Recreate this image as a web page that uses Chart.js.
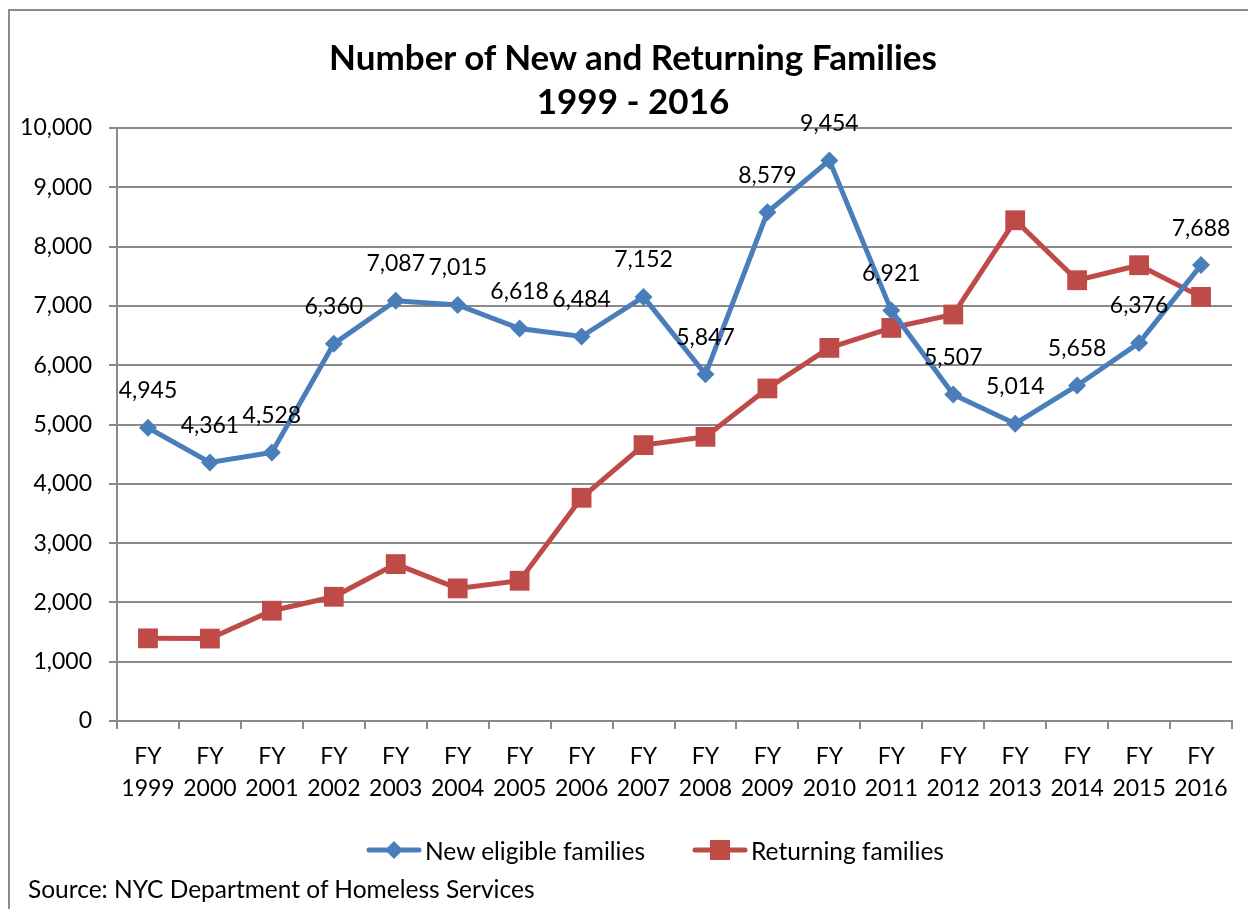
<!DOCTYPE html>
<html>
<head>
<meta charset="utf-8">
<script src="https://cdn.jsdelivr.net/npm/chart.js@4"></script>
<style>
  body { margin: 0; width: 1248px; height: 909px; overflow: hidden; background: #fff; font-family: Lato, sans-serif; color: #000; }
  #frame { position: absolute; left: 8px; top: 9px; width: 1300px; height: 1000px; border: 2px solid #8a8a8a; box-sizing: border-box; }
  #wrap { position: absolute; left: 0; top: 0; width: 1248px; height: 909px; }
  #title { position: absolute; left: 0; top: 34px; width: 1266px; text-align: center; font-weight: bold; font-size: 35px; line-height: 44px; }
  .leg { position: absolute; top: 836px; height: 28px; display: flex; align-items: center; font-size: 24.5px; }
  .leg svg { margin-right: 3px; }
  #source { position: absolute; left: 28px; top: 874px; font-size: 24.5px; line-height: 30px; }
</style>
</head>
<body>
<div id="frame"></div>
<div id="wrap"><canvas id="chart" width="1248" height="909"></canvas></div>
<div id="title">Number of New and Returning Families<br>1999 - 2016</div>
<div class="leg" style="left:366px">
  <svg width="56" height="22"><line x1="3" y1="11" x2="53" y2="11" stroke="#4a7ebb" stroke-width="5" stroke-linecap="round"/><polygon points="28,2 37,11 28,20 19,11" fill="#4a7ebb"/></svg>New eligible families
</div>
<div class="leg" style="left:692px">
  <svg width="56" height="22"><line x1="3" y1="11" x2="53" y2="11" stroke="#be4b48" stroke-width="5" stroke-linecap="round"/><rect x="18" y="1" width="20" height="20" fill="#be4b48"/></svg>Returning families
</div>
<div id="source">Source: NYC Department of Homeless Services</div>
<script>
let years = ["1999", "2000", "2001", "2002", "2003", "2004", "2005", "2006", "2007",
             "2008", "2009", "2010", "2011", "2012", "2013", "2014", "2015", "2016"];
let newFamilies = [4945, 4361, 4528, 6360, 7087, 7015, 6618, 6484, 7152,
                   5847, 8579, 9454, 6921, 5507, 5014, 5658, 6376, 7688];
let returningFamilies = [1394, 1390, 1860, 2095, 2646, 2236, 2365, 3764, 4652,
                         4792, 5608, 6292, 6629, 6855, 8444, 7433, 7686, 7152];
let yTicks = [0, 1000, 2000, 3000, 4000, 5000, 6000, 7000, 8000, 9000, 10000];

let gridColor = "#8a8a8a";

/* value labels above the blue series */
const valueLabels = {
    id: "valueLabels",
    afterDatasetsDraw(chart) {
        let ctx = chart.ctx;
        let meta = chart.getDatasetMeta(0);
        ctx.save();
        ctx.font = "23px Lato";
        ctx.fillStyle = "#000";
        ctx.textAlign = "center";
        ctx.textBaseline = "middle";
        meta.data.forEach((pt, i) => {
            ctx.fillText(newFamilies[i].toLocaleString("en-US"), pt.x, pt.y - 37);
        });
        ctx.restore();
    }
};

new Chart(document.getElementById("chart"), {
    type: "line",
    data: {
        labels: years.map(y => ["FY", y]),
        datasets: [
            {
                label: "New eligible families",
                data: newFamilies,
                borderColor: "#4a7ebb",
                backgroundColor: "#4a7ebb",
                borderWidth: 5,
                pointStyle: "rectRot",
                pointRadius: 9,
                pointBorderWidth: 0,
                tension: 0
            },
            {
                label: "Returning families",
                data: returningFamilies,
                borderColor: "#be4b48",
                backgroundColor: "#be4b48",
                borderWidth: 5,
                pointStyle: "rect",
                pointRadius: 14,
                pointBorderWidth: 0,
                tension: 0
            }
        ]
    },
    options: {
        responsive: false,
        devicePixelRatio: 1,
        animation: false,
        layout: { padding: { top: 128, left: 0, right: 16, bottom: 0 } },
        plugins: {
            legend: { display: false },
            title: { display: false },
            tooltip: { enabled: false }
        },
        scales: {
            x: {
                offset: true,
                grid: { offset: true, drawOnChartArea: false, color: gridColor, tickLength: 8, lineWidth: 2 },
                border: { color: gridColor, width: 2 },
                ticks: { color: "#000", font: { family: "Lato", size: 23, lineHeight: 1.39 }, padding: 12, maxRotation: 0, autoSkip: false },
                afterFit: (scale) => { scale.height = 188; }
            },
            y: {
                min: 0,
                max: 10000,
                afterBuildTicks: (scale) => { scale.ticks = yTicks.map(v => ({ value: v })); },
                grid: { color: gridColor, tickLength: 8, lineWidth: 2 },
                border: { color: gridColor, width: 2 },
                ticks: {
                    color: "#000",
                    font: { family: "Lato", size: 23 },
                    padding: 17,
                    callback: (v) => v.toLocaleString("en-US")
                },
                afterFit: (scale) => { scale.width = 117; }
            }
        }
    },
    plugins: [valueLabels]
});
</script>
</body>
</html>
